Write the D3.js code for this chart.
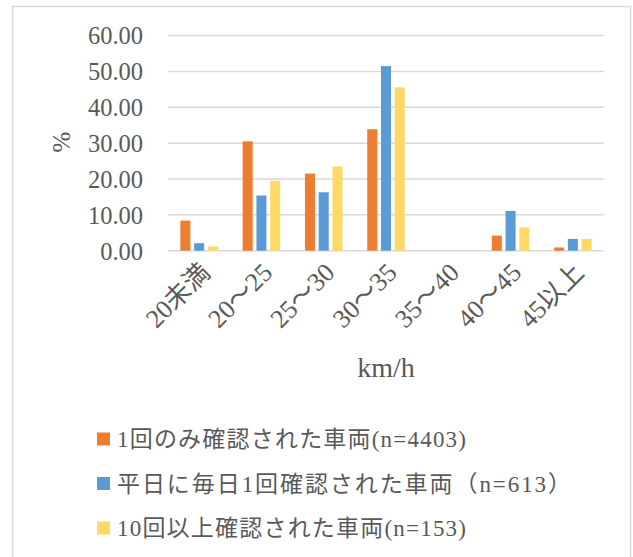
<!DOCTYPE html>
<html>
<head>
<meta charset="utf-8">
<script src="https://cdn.jsdelivr.net/npm/d3@7"></script>
<style>
  html, body { margin: 0; padding: 0; background: #fff; }
  svg { display: block; }
  text { fill: #595959; }
</style>
</head>
<body>
<svg id="chart" width="633" height="557"></svg>
<script>
// Speed bands (km/h)
const categories = ["20未満", "20～25", "25～30", "30～35", "35～40", "40～45", "45以上"];
// Vehicle groups
const seriesNames = [
  "1回のみ確認された車両(n=4403)",
  "平日に毎日1回確認された車両（n=613）",
  "10回以上確認された車両(n=153)"
];
// Share of vehicles per speed band (%)
const seriesA = [8.4, 30.5, 21.5, 33.9, 0, 4.2, 0.9];
const seriesB = [2.1, 15.4, 16.3, 51.5, 0, 11.1, 3.3];
const seriesC = [1.2, 19.5, 23.5, 45.6, 0, 6.5, 3.3];
const seriesValues = [seriesA, seriesB, seriesC];
const colors = ["#ED7D31", "#5B9BD5", "#FFD966"];
const yTicks = [0, 10, 20, 30, 40, 50, 60];
const yLabel = "%";
const xLabel = "km/h";

const font = "'Liberation Serif', 'Noto Sans CJK JP', serif";
const svg = d3.select("#chart");

// Chart frame
svg.append("rect")
  .attr("x", 12.5).attr("y", 6.5)
  .attr("width", 618).attr("height", 560)
  .attr("fill", "#fff")
  .attr("stroke", "#d9d9d9").attr("stroke-width", 1.5);

const plot = { left: 168, right: 604, top: 35.6, bottom: 250.7 };

const x = d3.scaleBand().domain(categories).range([plot.left, plot.right]);
const x1 = d3.scaleBand().domain(d3.range(seriesValues.length))
  .range([0, x.bandwidth()]).paddingInner(0.27).paddingOuter(0.9);
const y = d3.scaleLinear().domain([0, 60]).range([plot.bottom, plot.top]);

// Gridlines
svg.append("g").selectAll("line").data(yTicks).join("line")
  .attr("x1", plot.left).attr("x2", plot.right)
  .attr("y1", d => y(d)).attr("y2", d => y(d))
  .attr("stroke", "#d9d9d9").attr("stroke-width", 1.5);

// Y axis labels
const yAxis = d3.axisLeft(y).tickValues(yTicks).tickFormat(d3.format(".2f")).tickSize(0).tickPadding(0);
const gy = svg.append("g").attr("transform", "translate(143,0)").call(yAxis);
gy.select(".domain").remove();
gy.selectAll("text")
  .attr("font-family", font).attr("font-size", 24.5)
  .attr("fill", "#595959").attr("dy", "0.34em");

// Bars
const groups = svg.append("g").selectAll("g").data(categories).join("g")
  .attr("transform", d => `translate(${x(d)},0)`);
groups.selectAll("rect")
  .data((d, i) => seriesValues.map((s, k) => ({ k, v: s[i] })))
  .join("rect")
  .attr("x", d => x1(d.k))
  .attr("width", x1.bandwidth())
  .attr("y", d => y(d.v))
  .attr("height", d => y(0) - y(d.v))
  .attr("fill", d => colors[d.k]);

// X axis category labels (rotated)
svg.append("g").selectAll("text").data(categories).join("text")
  .attr("transform", d => `translate(${x(d) + x.bandwidth() / 2 + 6},${plot.bottom + 17}) rotate(-45)`)
  .attr("text-anchor", "end")
  .attr("dy", "0.35em")
  .attr("font-family", font).attr("font-size", 26)
  .text(d => d);

// Axis titles
svg.append("text")
  .attr("transform", `translate(70,142) rotate(-90)`)
  .attr("text-anchor", "middle")
  .attr("font-family", font).attr("font-size", 25)
  .text(yLabel);
svg.append("text")
  .attr("x", 386).attr("y", 377)
  .attr("text-anchor", "middle")
  .attr("font-family", font).attr("font-size", 28)
  .text(xLabel);

// Legend
const legendWidths = [349, 454, 349];
const legend = svg.append("g").selectAll("g").data(seriesNames).join("g")
  .attr("transform", (d, i) => `translate(97,${439 + i * 44.5})`);
legend.append("rect")
  .attr("x", 0).attr("y", -6.5).attr("width", 13).attr("height", 13)
  .attr("fill", (d, i) => colors[i]);
legend.append("text")
  .attr("x", 20).attr("dy", "0.36em")
  .attr("font-family", font).attr("font-size", 23)
  .attr("textLength", (d, i) => legendWidths[i])
  .attr("lengthAdjust", "spacing")
  .text(d => d);
</script>
</body>
</html>
